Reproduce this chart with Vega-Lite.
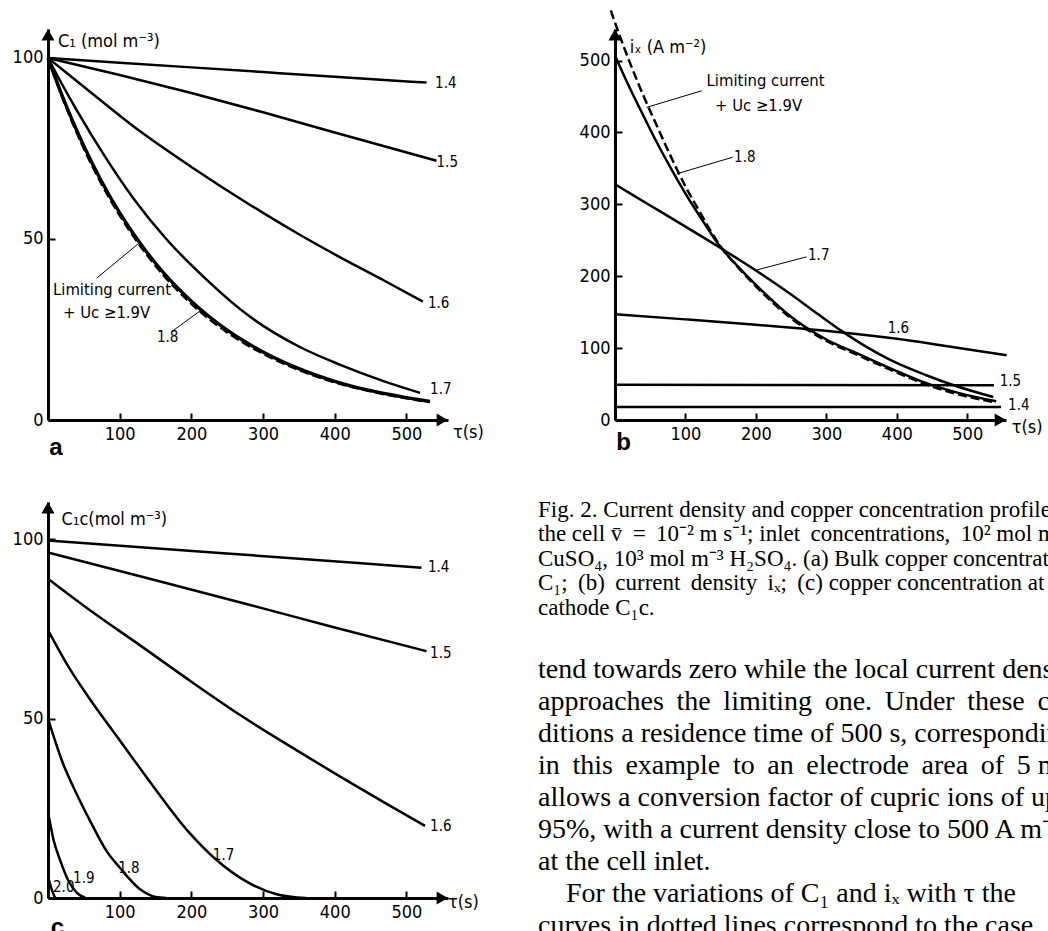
{
  "$schema": "https://vega.github.io/schema/vega-lite/v6.json",
  "autosize": {"type": "none"},
  "padding": {"left": 48, "top": 29, "right": 1000, "bottom": 902},
  "background": "white",
  "config": {
    "view": {"stroke": null},
    "font": "DejaVu Sans Condensed, Liberation Sans, sans-serif",
    "axis": {"domainColor": "black", "domainWidth": 3, "tickColor": "black", "tickWidth": 2, "tickSize": -7, "labelColor": "black", "labelFont": "DejaVu Sans Condensed, Liberation Sans, sans-serif", "labelFontSize": 18, "labelPadding": 12, "grid": false, "labelFlush": false, "labelOverlap": false}
  },
  "datasets": {
    "a_lines": [
      {"curve": "1.4", "t": 0, "v": 100}, {"curve": "1.4", "t": 100, "v": 98.7}, {"curve": "1.4", "t": 200, "v": 97.4}, {"curve": "1.4", "t": 300, "v": 96.1}, {"curve": "1.4", "t": 400, "v": 94.8}, {"curve": "1.4", "t": 528, "v": 93.2},
      {"curve": "1.5", "t": 0, "v": 100}, {"curve": "1.5", "t": 100, "v": 95.3}, {"curve": "1.5", "t": 200, "v": 90.3}, {"curve": "1.5", "t": 300, "v": 85}, {"curve": "1.5", "t": 400, "v": 79.4}, {"curve": "1.5", "t": 542, "v": 71.6},
      {"curve": "1.6", "t": 0, "v": 100}, {"curve": "1.6", "t": 30, "v": 95.2}, {"curve": "1.6", "t": 59, "v": 90.6}, {"curve": "1.6", "t": 128, "v": 79.8}, {"curve": "1.6", "t": 200, "v": 69.9}, {"curve": "1.6", "t": 282, "v": 59.4}, {"curve": "1.6", "t": 350, "v": 51.3}, {"curve": "1.6", "t": 407, "v": 45}, {"curve": "1.6", "t": 470, "v": 38.4}, {"curve": "1.6", "t": 523, "v": 32.7},
      {"curve": "1.7", "t": 0, "v": 100}, {"curve": "1.7", "t": 20, "v": 92.6}, {"curve": "1.7", "t": 40, "v": 85.6}, {"curve": "1.7", "t": 82, "v": 72}, {"curve": "1.7", "t": 120, "v": 61}, {"curve": "1.7", "t": 165, "v": 50}, {"curve": "1.7", "t": 220, "v": 39}, {"curve": "1.7", "t": 282, "v": 28.5}, {"curve": "1.7", "t": 350, "v": 20.3}, {"curve": "1.7", "t": 407, "v": 15.3}, {"curve": "1.7", "t": 470, "v": 10.6}, {"curve": "1.7", "t": 519, "v": 7.5},
      {"curve": "1.8", "t": 0, "v": 100}, {"curve": "1.8", "t": 25, "v": 87}, {"curve": "1.8", "t": 50, "v": 75.7}, {"curve": "1.8", "t": 75, "v": 65.8}, {"curve": "1.8", "t": 100, "v": 57.2}, {"curve": "1.8", "t": 125, "v": 49.8}, {"curve": "1.8", "t": 150, "v": 43.3}, {"curve": "1.8", "t": 200, "v": 32.8}, {"curve": "1.8", "t": 250, "v": 24.8}, {"curve": "1.8", "t": 300, "v": 18.8}, {"curve": "1.8", "t": 350, "v": 14.2}, {"curve": "1.8", "t": 400, "v": 10.7}, {"curve": "1.8", "t": 450, "v": 8.1}, {"curve": "1.8", "t": 500, "v": 6.2}, {"curve": "1.8", "t": 533, "v": 5.1},
      {"curve": "lim", "t": 0, "v": 100}, {"curve": "lim", "t": 25, "v": 86.5}, {"curve": "lim", "t": 50, "v": 75}, {"curve": "lim", "t": 75, "v": 65.1}, {"curve": "lim", "t": 100, "v": 56.5}, {"curve": "lim", "t": 125, "v": 49.1}, {"curve": "lim", "t": 150, "v": 42.6}, {"curve": "lim", "t": 200, "v": 32.1}, {"curve": "lim", "t": 250, "v": 24.2}, {"curve": "lim", "t": 300, "v": 18.3}, {"curve": "lim", "t": 350, "v": 13.8}, {"curve": "lim", "t": 400, "v": 10.4}, {"curve": "lim", "t": 450, "v": 7.9}, {"curve": "lim", "t": 500, "v": 6}, {"curve": "lim", "t": 530, "v": 5}
    ],
    "a_text": [
      {"kind": "curve", "t": 540, "v": 93, "label": "1.4"},
      {"kind": "curve", "t": 542, "v": 71.4, "label": "1.5"},
      {"kind": "curve", "t": 530, "v": 32.2, "label": "1.6"},
      {"kind": "curve", "t": 533, "v": 8.5, "label": "1.7"},
      {"kind": "curve", "t": 152, "v": 22.9, "label": "1.8"},
      {"kind": "note", "t": 7, "v": 35.9, "label": "Limiting current"},
      {"kind": "note", "t": 21, "v": 29.6, "label": "+ Uc ≥1.9V"},
      {"kind": "title", "t": 14, "v": 104.4, "label": "C₁ (mol  m⁻³)"},
      {"kind": "title", "t": 565, "v": -3.6, "label": "τ(s)"}
    ],
    "a_leaders": [
      {"t": 68, "v": 39.2, "t2": 125.5, "v2": 48.6},
      {"t": 172.5, "v": 24.4, "t2": 214, "v2": 30.4}
    ],
    "b_lines": [
      {"curve": "1.4", "t": 0, "v": 18}, {"curve": "1.4", "t": 548, "v": 18},
      {"curve": "1.5", "t": 0, "v": 49}, {"curve": "1.5", "t": 538, "v": 48.5},
      {"curve": "1.6", "t": 0, "v": 147}, {"curve": "1.6", "t": 100, "v": 140}, {"curve": "1.6", "t": 200, "v": 132.5}, {"curve": "1.6", "t": 260, "v": 127.5}, {"curve": "1.6", "t": 326, "v": 121.5}, {"curve": "1.6", "t": 400, "v": 113}, {"curve": "1.6", "t": 460, "v": 104.5}, {"curve": "1.6", "t": 556, "v": 90},
      {"curve": "1.7", "t": 0, "v": 328}, {"curve": "1.7", "t": 50, "v": 298.5}, {"curve": "1.7", "t": 100, "v": 269}, {"curve": "1.7", "t": 147, "v": 241}, {"curve": "1.7", "t": 200, "v": 208}, {"curve": "1.7", "t": 248, "v": 176}, {"curve": "1.7", "t": 290, "v": 146}, {"curve": "1.7", "t": 323, "v": 123}, {"curve": "1.7", "t": 360, "v": 100}, {"curve": "1.7", "t": 390, "v": 84}, {"curve": "1.7", "t": 440, "v": 63}, {"curve": "1.7", "t": 485, "v": 47}, {"curve": "1.7", "t": 537, "v": 32},
      {"curve": "1.8", "t": 0, "v": 507}, {"curve": "1.8", "t": 20, "v": 464}, {"curve": "1.8", "t": 40, "v": 424}, {"curve": "1.8", "t": 60, "v": 385}, {"curve": "1.8", "t": 80, "v": 349}, {"curve": "1.8", "t": 100, "v": 315}, {"curve": "1.8", "t": 120, "v": 284}, {"curve": "1.8", "t": 148, "v": 243}, {"curve": "1.8", "t": 175, "v": 213}, {"curve": "1.8", "t": 200, "v": 188}, {"curve": "1.8", "t": 248, "v": 145}, {"curve": "1.8", "t": 300, "v": 112}, {"curve": "1.8", "t": 343, "v": 93}, {"curve": "1.8", "t": 400, "v": 68}, {"curve": "1.8", "t": 437, "v": 53}, {"curve": "1.8", "t": 490, "v": 37}, {"curve": "1.8", "t": 541, "v": 26},
      {"curve": "lim", "t": -6, "v": 570}, {"curve": "lim", "t": 0, "v": 553}, {"curve": "lim", "t": 20, "v": 500}, {"curve": "lim", "t": 40, "v": 452}, {"curve": "lim", "t": 60, "v": 408}, {"curve": "lim", "t": 80, "v": 365}, {"curve": "lim", "t": 100, "v": 325}, {"curve": "lim", "t": 120, "v": 290}, {"curve": "lim", "t": 148, "v": 244}, {"curve": "lim", "t": 175, "v": 212}, {"curve": "lim", "t": 200, "v": 186}, {"curve": "lim", "t": 248, "v": 143}, {"curve": "lim", "t": 300, "v": 110}, {"curve": "lim", "t": 343, "v": 91}, {"curve": "lim", "t": 400, "v": 66}, {"curve": "lim", "t": 437, "v": 51}, {"curve": "lim", "t": 490, "v": 35}, {"curve": "lim", "t": 538, "v": 25}
    ],
    "b_text": [
      {"kind": "curve", "t": 558, "v": 21, "label": "1.4"},
      {"kind": "curve", "t": 546, "v": 54, "label": "1.5"},
      {"kind": "curve", "t": 387, "v": 127.8, "label": "1.6"},
      {"kind": "curve", "t": 274, "v": 229, "label": "1.7"},
      {"kind": "curve", "t": 169, "v": 365.6, "label": "1.8"},
      {"kind": "note", "t": 130, "v": 472, "label": "Limiting current"},
      {"kind": "note", "t": 142, "v": 437, "label": "+ Uc ≥1.9V"},
      {"kind": "title", "t": 21, "v": 518, "label": "iₓ (A m⁻²)"},
      {"kind": "title", "t": 563, "v": -10.7, "label": "τ(s)"}
    ],
    "b_leaders": [
      {"t": 123, "v": 458, "t2": 45, "v2": 435},
      {"t": 167, "v": 365.6, "t2": 87.5, "v2": 342.5},
      {"t": 272, "v": 227, "t2": 201, "v2": 208.7}
    ],
    "c_lines": [
      {"curve": "1.4", "t": 0, "v": 99.7}, {"curve": "1.4", "t": 260, "v": 95.9}, {"curve": "1.4", "t": 521, "v": 92.1},
      {"curve": "1.5", "t": 0, "v": 96.3}, {"curve": "1.5", "t": 150, "v": 88.6}, {"curve": "1.5", "t": 282, "v": 81.7}, {"curve": "1.5", "t": 400, "v": 75.4}, {"curve": "1.5", "t": 528, "v": 68.8},
      {"curve": "1.6", "t": 0, "v": 89}, {"curve": "1.6", "t": 60, "v": 80}, {"curve": "1.6", "t": 128, "v": 70.5}, {"curve": "1.6", "t": 200, "v": 60.3}, {"curve": "1.6", "t": 268, "v": 51}, {"curve": "1.6", "t": 350, "v": 40.8}, {"curve": "1.6", "t": 407, "v": 33.9}, {"curve": "1.6", "t": 470, "v": 26.5}, {"curve": "1.6", "t": 526, "v": 20.1},
      {"curve": "1.7", "t": 0, "v": 74.7}, {"curve": "1.7", "t": 30, "v": 64}, {"curve": "1.7", "t": 60, "v": 55}, {"curve": "1.7", "t": 100, "v": 44}, {"curve": "1.7", "t": 140, "v": 33}, {"curve": "1.7", "t": 198, "v": 18}, {"curve": "1.7", "t": 230, "v": 11.5}, {"curve": "1.7", "t": 282, "v": 4}, {"curve": "1.7", "t": 320, "v": 1}, {"curve": "1.7", "t": 360, "v": 0},
      {"curve": "1.8", "t": 0, "v": 50}, {"curve": "1.8", "t": 20, "v": 38}, {"curve": "1.8", "t": 40, "v": 29}, {"curve": "1.8", "t": 60, "v": 21}, {"curve": "1.8", "t": 82, "v": 13}, {"curve": "1.8", "t": 100, "v": 8.5}, {"curve": "1.8", "t": 128, "v": 2.5}, {"curve": "1.8", "t": 150, "v": 0.3}, {"curve": "1.8", "t": 165, "v": 0},
      {"curve": "1.9", "t": 0, "v": 24}, {"curve": "1.9", "t": 8, "v": 16}, {"curve": "1.9", "t": 17, "v": 10.5}, {"curve": "1.9", "t": 28, "v": 5}, {"curve": "1.9", "t": 40, "v": 1.5}, {"curve": "1.9", "t": 52, "v": 0},
      {"curve": "2.0", "t": 0, "v": 6}, {"curve": "2.0", "t": 5, "v": 2.5}, {"curve": "2.0", "t": 10, "v": 0}
    ],
    "c_text": [
      {"kind": "curve", "t": 530, "v": 92.2, "label": "1.4"},
      {"kind": "curve", "t": 533, "v": 68.2, "label": "1.5"},
      {"kind": "curve", "t": 533, "v": 20, "label": "1.6"},
      {"kind": "curve", "t": 230, "v": 12, "label": "1.7"},
      {"kind": "curve", "t": 98, "v": 8.4, "label": "1.8"},
      {"kind": "curve", "t": 35, "v": 5.6, "label": "1.9"},
      {"kind": "curve", "t": 7, "v": 3.1, "label": "2.0"},
      {"kind": "title", "t": 19, "v": 105.3, "label": "C₁c(mol  m⁻³)"},
      {"kind": "title", "t": 558, "v": -1.4, "label": "τ(s)"}
    ],
    "arrows": [
      {"panel": "a", "t": 0, "v": 106.4, "dir": "up"}, {"panel": "a", "t": 550, "v": 0, "dir": "right"},
      {"panel": "b", "t": 0, "v": 536, "dir": "up"}, {"panel": "b", "t": 547, "v": 0, "dir": "right"},
      {"panel": "c", "t": 0, "v": 108.8, "dir": "up"}, {"panel": "c", "t": 550, "v": 0, "dir": "right"}
    ],
    "letters": [
      {"panel": "a", "t": 11, "v": -7.7, "label": "a"},
      {"panel": "b", "t": 12, "v": -31.4, "label": "b"},
      {"panel": "c", "t": 13, "v": -8.4, "label": "c"}
    ],
    "caption": [
      {"line": 1, "text": "Fig. 2. Current density and copper concentration profiles in"},
      {"line": 2, "text": "the cell v̄ \u2009=\u2009 10⁻² m s⁻¹; inlet \u2009concentrations, \u200910² mol m⁻³"},
      {"line": 3, "text": "CuSO₄, 10³ mol m⁻³ H₂SO₄. (a) Bulk copper concentration"},
      {"line": 4, "text": "C₁; \u2009(b) \u2009current \u2009density \u2009iₓ; \u2009(c) copper concentration at the"},
      {"line": 5, "text": "cathode C₁c."}
    ],
    "body": [
      {"line": 1, "text": "tend towards zero while the local current density"},
      {"line": 2, "text": "approaches \u2009the \u2009limiting \u2009one. \u2009Under \u2009these \u2009con-"},
      {"line": 3, "text": "ditions a residence time of 500 s, corresponding"},
      {"line": 4, "text": "in \u2009this \u2009example \u2009to \u2009an \u2009electrode \u2009area \u2009of \u20095 m²,"},
      {"line": 5, "text": "allows a conversion factor of cupric ions of up to"},
      {"line": 6, "text": "95%, with a current density close to 500 A m⁻²"},
      {"line": 7, "text": "at the cell inlet."},
      {"line": 8, "text": "For the variations of C₁ and iₓ with τ the"},
      {"line": 9, "text": "curves in dotted lines correspond to the case"}
    ]
  },
  "columns": 2,
  "spacing": {"row": 82, "column": 167},
  "bounds": "flush",
  "align": "each",
  "concat": [
    {
      "width": 400, "height": 391,
      "encoding": {
        "x": {"field": "t", "type": "quantitative", "title": null, "scale": {"domain": [0, 558], "nice": false, "zero": false}, "axis": {"values": [100, 200, 300, 400, 500]}},
        "y": {"field": "v", "type": "quantitative", "title": null, "scale": {"domain": [0, 108], "nice": false}, "axis": {"values": [0, 50, 100]}}
      },
      "layer": [
        {"data": {"name": "a_lines"}, "transform": [{"filter": "datum.curve != 'lim' && datum.curve != '1.8'"}], "mark": {"type": "line", "color": "black", "strokeWidth": 2.5, "interpolate": "monotone", "clip": false}, "encoding": {"detail": {"field": "curve"}}},
        {"data": {"name": "a_lines"}, "transform": [{"filter": "datum.curve == '1.8'"}], "mark": {"type": "line", "color": "black", "strokeWidth": 3.4, "interpolate": "monotone"}, "encoding": {}},
        {"data": {"name": "a_lines"}, "transform": [{"filter": "datum.curve == 'lim'"}], "mark": {"type": "line", "color": "black", "strokeWidth": 2.5, "strokeDash": [9, 4], "interpolate": "monotone"}, "encoding": {}},
        {"data": {"name": "a_leaders"}, "mark": {"type": "rule", "color": "black", "strokeWidth": 1}, "encoding": {"x2": {"field": "t2"}, "y2": {"field": "v2"}}},
        {"data": {"name": "a_text"}, "mark": {"type": "text", "align": "left", "baseline": "middle", "color": "black"}, "encoding": {"text": {"field": "label"}, "size": {"field": "kind", "type": "ordinal", "scale": {"domain": ["curve", "note", "title"], "range": [15, 18, 20]}, "legend": null}}},
        {"data": {"name": "letters"}, "transform": [{"filter": "datum.panel == 'a'"}], "mark": {"type": "text", "align": "center", "baseline": "middle", "color": "black", "fontSize": 24, "fontWeight": "bold", "font": "Liberation Sans, sans-serif"}, "encoding": {"text": {"field": "label"}}},
        {"data": {"name": "arrows"}, "transform": [{"filter": "datum.panel == 'a'"}], "mark": {"type": "point", "filled": true, "color": "black", "opacity": 1, "size": 170}, "encoding": {"shape": {"field": "dir", "type": "nominal", "scale": {"domain": ["up", "right"], "range": ["triangle-up", "triangle-right"]}, "legend": null}}}
      ]
    },
    {
      "width": 391, "height": 391,
      "encoding": {
        "x": {"field": "t", "type": "quantitative", "title": null, "scale": {"domain": [0, 555], "nice": false, "zero": false}, "axis": {"values": [100, 200, 300, 400, 500]}},
        "y": {"field": "v", "type": "quantitative", "title": null, "scale": {"domain": [0, 544], "nice": false}, "axis": {"values": [0, 100, 200, 300, 400, 500]}}
      },
      "layer": [
        {"data": {"name": "b_lines"}, "transform": [{"filter": "datum.curve != 'lim'"}], "mark": {"type": "line", "color": "black", "strokeWidth": 2.5, "interpolate": "monotone", "clip": false}, "encoding": {"detail": {"field": "curve"}}},
        {"data": {"name": "b_lines"}, "transform": [{"filter": "datum.curve == 'lim'"}], "mark": {"type": "line", "color": "black", "strokeWidth": 2.5, "strokeDash": [9, 4], "interpolate": "monotone", "clip": false}, "encoding": {}},
        {"data": {"name": "b_leaders"}, "mark": {"type": "rule", "color": "black", "strokeWidth": 1}, "encoding": {"x2": {"field": "t2"}, "y2": {"field": "v2"}}},
        {"data": {"name": "b_text"}, "mark": {"type": "text", "align": "left", "baseline": "middle", "color": "black"}, "encoding": {"text": {"field": "label"}, "size": {"field": "kind", "type": "ordinal", "scale": {"domain": ["curve", "note", "title"], "range": [15, 18, 20]}, "legend": null}}},
        {"data": {"name": "letters"}, "transform": [{"filter": "datum.panel == 'b'"}], "mark": {"type": "text", "align": "center", "baseline": "middle", "color": "black", "fontSize": 24, "fontWeight": "bold", "font": "Liberation Sans, sans-serif"}, "encoding": {"text": {"field": "label"}}},
        {"data": {"name": "arrows"}, "transform": [{"filter": "datum.panel == 'b'"}], "mark": {"type": "point", "filled": true, "color": "black", "opacity": 1, "size": 170}, "encoding": {"shape": {"field": "dir", "type": "nominal", "scale": {"domain": ["up", "right"], "range": ["triangle-up", "triangle-right"]}, "legend": null}}}
      ]
    },
    {
      "width": 400, "height": 396,
      "encoding": {
        "x": {"field": "t", "type": "quantitative", "title": null, "scale": {"domain": [0, 558], "nice": false, "zero": false}, "axis": {"values": [100, 200, 300, 400, 500]}},
        "y": {"field": "v", "type": "quantitative", "title": null, "scale": {"domain": [0, 110.4], "nice": false}, "axis": {"values": [0, 50, 100]}}
      },
      "layer": [
        {"data": {"name": "c_lines"}, "mark": {"type": "line", "color": "black", "strokeWidth": 2.5, "interpolate": "monotone", "clip": false}, "encoding": {"detail": {"field": "curve"}}},
        {"data": {"name": "c_text"}, "mark": {"type": "text", "align": "left", "baseline": "middle", "color": "black"}, "encoding": {"text": {"field": "label"}, "size": {"field": "kind", "type": "ordinal", "scale": {"domain": ["curve", "note", "title"], "range": [15, 18, 20]}, "legend": null}}},
        {"data": {"name": "letters"}, "transform": [{"filter": "datum.panel == 'c'"}], "mark": {"type": "text", "align": "center", "baseline": "middle", "color": "black", "fontSize": 24, "fontWeight": "bold", "font": "Liberation Sans, sans-serif"}, "encoding": {"text": {"field": "label"}}},
        {"data": {"name": "arrows"}, "transform": [{"filter": "datum.panel == 'c'"}], "mark": {"type": "point", "filled": true, "color": "black", "opacity": 1, "size": 170}, "encoding": {"shape": {"field": "dir", "type": "nominal", "scale": {"domain": ["up", "right"], "range": ["triangle-up", "triangle-right"]}, "legend": null}}}
      ]
    },
    {
      "width": 433, "height": 429,
      "layer": [
        {"data": {"name": "caption"}, "mark": {"type": "text", "align": "left", "baseline": "middle", "color": "black", "font": "Liberation Serif, serif", "fontSize": 23},
         "encoding": {"x": {"datum": -77, "type": "quantitative", "scale": {"domain": [0, 433], "nice": false, "zero": false}, "axis": null}, "y": {"field": "line", "type": "quantitative", "scale": {"domain": [0.672, 18.25], "reverse": true, "nice": false, "zero": false}, "axis": null}, "text": {"field": "text"}}},
        {"data": {"name": "body"}, "transform": [{"filter": "datum.line != 8"}], "mark": {"type": "text", "align": "left", "baseline": "middle", "color": "black", "font": "Liberation Serif, serif", "fontSize": 28},
         "encoding": {"x": {"datum": -77, "type": "quantitative", "scale": {"domain": [0, 433], "nice": false, "zero": false}, "axis": null}, "y": {"field": "line", "type": "quantitative", "scale": {"domain": [-4.25, 9.156], "reverse": true, "nice": false, "zero": false}, "axis": null}, "text": {"field": "text"}}},
        {"data": {"name": "body"}, "transform": [{"filter": "datum.line == 8"}], "mark": {"type": "text", "align": "left", "baseline": "middle", "color": "black", "font": "Liberation Serif, serif", "fontSize": 28, "dx": 28},
         "encoding": {"x": {"datum": -77, "type": "quantitative", "scale": {"domain": [0, 433], "nice": false, "zero": false}, "axis": null}, "y": {"field": "line", "type": "quantitative", "scale": {"domain": [-4.25, 9.156], "reverse": true, "nice": false, "zero": false}, "axis": null}, "text": {"field": "text"}}}
      ],
      "resolve": {"scale": {"y": "independent"}}
    }
  ]
}
